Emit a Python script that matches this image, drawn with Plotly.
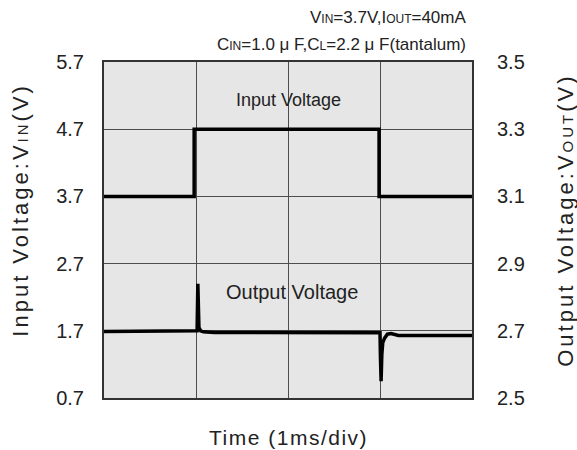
import plotly.graph_objects as go

# Input voltage (left axis, V) vs time (ms)
t_in = [0, 0.98, 0.98, 2.99, 2.99, 4]
v_in = [3.7, 3.7, 4.7, 4.7, 3.7, 3.7]

# Output voltage (right axis, V) vs time (ms)
t_out = [0, 1.0, 1.012, 1.02, 1.026, 1.032, 1.05, 1.08, 1.2, 3.0, 3.005,
         3.012, 3.02, 3.03, 3.05, 3.08, 3.12, 3.2, 4]
v_out = [2.698, 2.698, 2.70, 2.84, 2.74, 2.71, 2.70, 2.697, 2.695, 2.694, 2.62,
         2.55, 2.63, 2.665, 2.678, 2.69, 2.692, 2.686, 2.686]

left_ticks = [0.7, 1.7, 2.7, 3.7, 4.7, 5.7]
right_ticks = [2.5, 2.7, 2.9, 3.1, 3.3, 3.5]
x_ticks = [0, 1, 2, 3, 4]

FONT = "Liberation Sans, Arial, sans-serif"

fig = go.Figure()
fig.add_trace(go.Scatter(x=t_in, y=v_in, mode="lines",
                         line=dict(color="black", width=3.5), yaxis="y",
                         showlegend=False))
fig.add_trace(go.Scatter(x=t_out, y=v_out, mode="lines",
                         line=dict(color="black", width=3.5), yaxis="y2",
                         showlegend=False))

axis_line = dict(showline=True, linecolor="#333333", linewidth=2, mirror=True)

fig.update_layout(
    width=577, height=450,
    margin=dict(l=104, r=105, t=62, b=52),
    paper_bgcolor="white", plot_bgcolor="#e6e6e6",
    font=dict(family=FONT, color="#222222"),
    xaxis=dict(range=[0, 4], tickvals=x_ticks, showticklabels=False,
               showgrid=True, gridcolor="#4d4d4d", gridwidth=1,
               zeroline=False, ticks="", **axis_line),
    yaxis=dict(range=[0.7, 5.7], tickvals=left_ticks,
               ticktext=[f"{v:.1f}" for v in left_ticks],
               showgrid=True, gridcolor="#4d4d4d", gridwidth=1,
               zeroline=False, ticks="outside", ticklen=14,
               tickcolor="rgba(0,0,0,0)",
               tickfont=dict(size=20, family=FONT, color="#222222"),
               **axis_line),
    yaxis2=dict(range=[2.5, 3.5], tickvals=right_ticks,
                ticktext=[f"{v:.1f}" for v in right_ticks],
                overlaying="y", side="right", showgrid=False,
                zeroline=False, ticks="outside", ticklen=20,
                tickcolor="rgba(0,0,0,0)",
                tickfont=dict(size=20, family=FONT, color="#222222")),
)

small = "<span style='font-size:12px'>{}</span>"


def spaced(s, px):
    return f"<span style='letter-spacing:{px}px'>{s}</span>"


annotations = [
    dict(text="Input Voltage", x=2.0, y=5.13, xref="x", yref="y",
         showarrow=False, font=dict(size=18)),
    dict(text="Output Voltage", x=2.04, y=2.28, xref="x", yref="y",
         showarrow=False, font=dict(size=20)),
    dict(text="V" + small.format("IN") + "=3.7V,I" + small.format("OUT") + "=40mA",
         x=0.989, y=1.133, xref="paper", yref="paper", xanchor="right",
         yanchor="middle", showarrow=False, font=dict(size=17)),
    dict(text="C" + small.format("IN") + "=1.0 μ F,C" + small.format("L") +
         "=2.2 μ F(tantalum)",
         x=0.989, y=1.051, xref="paper", yref="paper", xanchor="right",
         yanchor="middle", showarrow=False, font=dict(size=17)),
    dict(text=spaced("Time (1ms/div)", 1.5), x=0.5, y=-0.119,
         xref="paper", yref="paper",
         showarrow=False, yanchor="middle", font=dict(size=21)),
    dict(text=spaced("Input Voltage:V", 3) +
         "<span style='font-size:15px;letter-spacing:3px'>IN</span>" +
         spaced("(V)", 3),
         x=-0.226, y=0.56, xref="paper", yref="paper", textangle=-90,
         showarrow=False, xanchor="center", yanchor="middle",
         font=dict(size=22)),
    dict(text=spaced("Output Voltage:V", 3) +
         "<span style='font-size:15px;letter-spacing:3px'>OUT</span>" +
         spaced("(V)", 3),
         x=1.255, y=0.53, xref="paper", yref="paper", textangle=-90,
         showarrow=False, xanchor="center", yanchor="middle",
         font=dict(size=22)),
]
fig.update_layout(annotations=annotations)

fig.write_html("out.html", config={"displayModeBar": False},
               post_script="document.body.style.margin='0';"
                           "document.body.style.overflow='hidden';")
